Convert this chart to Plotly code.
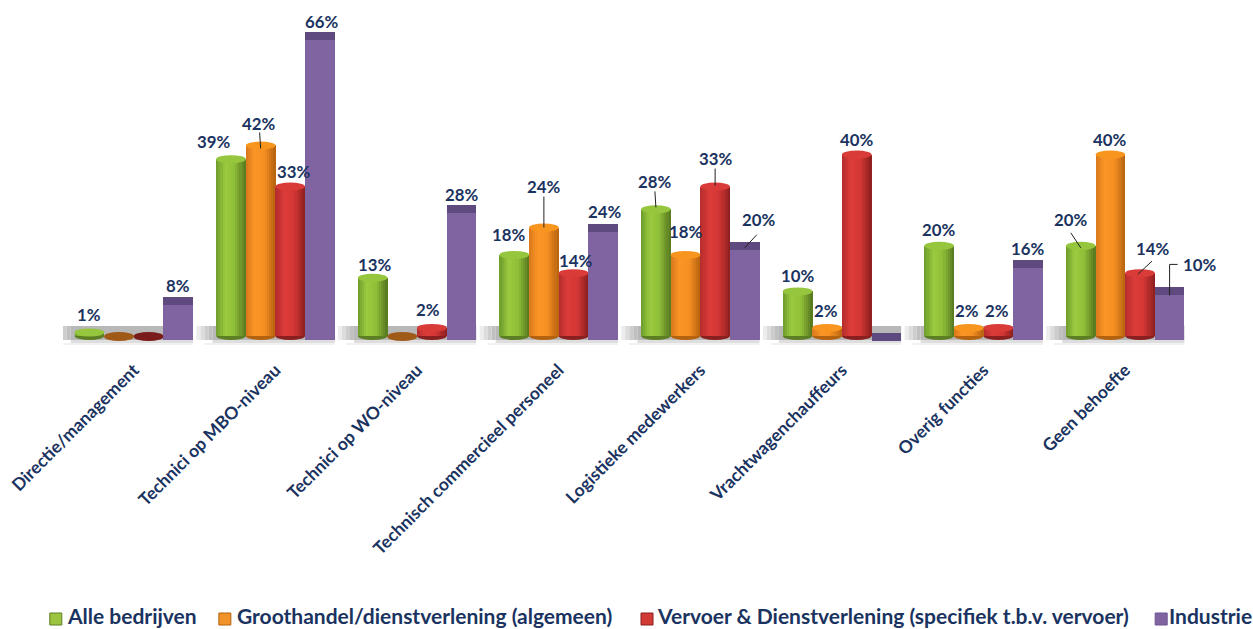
import plotly.graph_objects as go

CATEGORIES = ["Directie/management", "Technici op MBO-niveau", "Technici op WO-niveau",
              "Technisch commercieel personeel", "Logistieke medewerkers",
              "Vrachtwagenchauffeurs", "Overig functies", "Geen behoefte"]
ALLE = [1, 39, 13, 18, 28, 10, 20, 20]
GROOTHANDEL = [0, 42, 0, 24, 18, 2, 2, 40]
VERVOER = [0, 33, 2, 14, 33, 40, 2, 14]
INDUSTRIE = [8, 66, 28, 24, 20, 0, 16, 10]
NAMES = ["Alle bedrijven", "Groothandel/dienstverlening (algemeen)",
         "Vervoer & Dienstverlening (specifiek t.b.v. vervoer)", "Industrie"]
SERIES = [ALLE, GROOTHANDEL, VERVOER, INDUSTRIE]

# label shift from the bar top, in pixels (dx, up); None = no label
SHIFTS = [
    [(0, 14), (-18, 14), (2, 9), (-6, 16), (-1, 24), (0, 12), (-1, 12), (-10, 22)],
    [None, (-2, 17.5), None, (0, 36.6), (0, 19), (-1, 13), (-2, 13), (-1, 11.6)],
    [None, (3, 11.5), (-4, 14), (2, 9), (0, 24.5), (0, 11.6), (-1, 13), (13, 21)],
    [(0, 11), (2, 11), (0, 11), (1, 11.6), (14, 22), None, (0, 12), (29.5, 23.4)],
]
# leader lines: series, category, list of (dx, up) pixels from the bar top
LEADERS = [
    (1, 1, [(-1, 9), (0, -7)]),
    (1, 3, [(0, 27), (0, -4)]),
    (0, 4, [(-1, 14), (0, -2)]),
    (2, 4, [(0, 14), (0, -3)]),
    (3, 4, [(12, 7), (0, -6)]),
    (0, 7, [(-10, 9), (0, -6)]),
    (2, 7, [(12, 8), (-2, -5)]),
    (3, 7, [(8, 23), (0, 23), (0, -8)]),
]
RAMPS = [
    [(0, "#6d9a2c"), (.3, "#9bcb3f"), (.62, "#8fbe38"), (1, "#55761f")],
    [(0, "#d8781c"), (.3, "#fb9526"), (.62, "#f58f22"), (1, "#b5620f")],
    [(0, "#b32c2c"), (.3, "#dc3c3a"), (.62, "#d43735"), (1, "#8a1f1f")],
]
CAPS = ["#96c63e", "#f8951f", "#d93b39"]
BOTTOMS = ["#5c7f24", "#b5620f", "#8a1f1f"]
ZERO_CAPS = ["#7f5a20", "#a05a18", "#7a1c1c"]
PURPLE = "#8064a2"
PURPLE_CAP = "#5f4a80"
NAVY = "#1a3360"
LEGEND_FILL = ["#9bc53f", "#f0932b", "#d23a36", PURPLE]
LEGEND_EDGE = ["#5c7f24", "#b5620f", "#8a1f1f", "#6f5591"]
LEGEND_MARK_PX = [50, 219, 641, 1155]
LEGEND_TEXT_PX = [67, 237, 657, 1169]

PX_X = 1 / 141.6
PX_Y = 1 / 4.56
BAR_W = 29.6 * PX_X
OFFS = [-1.5 * BAR_W, -0.5 * BAR_W, 0.5 * BAR_W, 1.5 * BAR_W]
N_STRIPS = 14
PLOT_L, PLOT_T, PLOT_W, PLOT_H = 63.2, 10, 1132.6, 340


def hex2rgb(h):
    return tuple(int(h[i:i + 2], 16) for i in (1, 3, 5))


def ramp(stops, t):
    for (a, ca), (b, cb) in zip(stops, stops[1:]):
        if t <= b:
            f = (t - a) / (b - a)
            ra, rb = hex2rgb(ca), hex2rgb(cb)
            return "rgb(%d,%d,%d)" % tuple(round(p + (q - p) * f) for p, q in zip(ra, rb))
    return stops[-1][1]


def paper_x(px):
    return (px - PLOT_L) / PLOT_W


def paper_y(py):
    return 1 - (py - PLOT_T) / PLOT_H


xs = list(range(len(CATEGORIES)))
fig = go.Figure()
shapes = []

# floor
for i in xs:
    left = i - 79 * PX_X
    right = i + 59.2 * PX_X
    for k, col in enumerate(["#ececec", "#dcdcdc", "#cdcdcd", "#c0c0c0"]):
        shapes.append(dict(type="rect", xref="x", yref="y", layer="below", line_width=0, fillcolor=col,
                           x0=left + k * 4 * PX_X, x1=left + (k + 1) * 4 * PX_X, y0=-7 * PX_Y, y1=7 * PX_Y))
    shapes.append(dict(type="rect", xref="x", yref="y", layer="below", line_width=0, fillcolor="#b8b8b8",
                       x0=left + 16 * PX_X, x1=right, y0=-7 * PX_Y, y1=7 * PX_Y))
    shapes.append(dict(type="rect", xref="x", yref="y", layer="below", line_width=0, fillcolor="#dedede",
                       x0=left + 16 * PX_X, x1=right, y0=-10 * PX_Y, y1=-7 * PX_Y))
    shapes.append(dict(type="rect", xref="x", yref="y", layer="below", line_width=0, fillcolor="#f1f1f1",
                       x0=left + 8 * PX_X, x1=right, y0=-12 * PX_Y, y1=-10 * PX_Y))

# cylinders
for s in range(3):
    vals = SERIES[s]
    base = [-3 * PX_Y] * len(vals)
    heights = [None if v == 0 else v - 4 * PX_Y + 3 * PX_Y for v in vals]
    for k in range(N_STRIPS):
        t = (k + .5) / N_STRIPS
        w = BAR_W / N_STRIPS
        fig.add_trace(go.Bar(x=xs, y=heights, base=base, width=w * 1.12,
                             offset=OFFS[s] - BAR_W / 2 + k * w,
                             marker=dict(color=ramp(RAMPS[s], t), line_width=0),
                             name=NAMES[s], showlegend=False, hoverinfo="skip"))
    for i, v in enumerate(vals):
        cx = i + OFFS[s]
        shapes.append(dict(type="circle", xref="x", yref="y", layer="below", line_width=0,
                           fillcolor=BOTTOMS[s] if v else ZERO_CAPS[s],
                           x0=cx - BAR_W / 2, x1=cx + BAR_W / 2, y0=-7 * PX_Y, y1=1 * PX_Y))
        shapes.append(dict(type="circle", xref="x", yref="y", line_width=0,
                           fillcolor=CAPS[s] if v else ZERO_CAPS[s],
                           x0=cx - BAR_W / 2, x1=cx + BAR_W / 2, y0=v - 8 * PX_Y, y1=v))

# flat purple bars with a dark top band
fig.add_trace(go.Bar(x=xs, y=[v + 7 * PX_Y for v in INDUSTRIE], base=[-7 * PX_Y] * 8, width=BAR_W, offset=OFFS[3] - BAR_W / 2,
                     marker=dict(color=PURPLE, line_width=0), name=NAMES[3], showlegend=False, hoverinfo="skip"))
fig.add_trace(go.Bar(x=xs, y=[8 * PX_Y] * 8, base=[v - 8 * PX_Y for v in INDUSTRIE], width=BAR_W, offset=OFFS[3] - BAR_W / 2,
                     marker=dict(color=PURPLE_CAP, line_width=0), showlegend=False, hoverinfo="skip"))

# leader lines
for s, i, pts in LEADERS:
    cx = i + OFFS[s]
    v = SERIES[s][i]
    path = " ".join(("M" if n == 0 else "L") + f" {cx + dx * PX_X} {v + up * PX_Y}" for n, (dx, up) in enumerate(pts))
    shapes.append(dict(type="path", xref="x", yref="y", path=path, line=dict(color="#222222", width=1)))

annotations = []
for s in range(4):
    for i, v in enumerate(SERIES[s]):
        shift = SHIFTS[s][i]
        if shift is None:
            continue
        annotations.append(dict(x=i + OFFS[s], y=v, xref="x", yref="y", text=f"{v}%", showarrow=False,
                                xshift=shift[0], yshift=shift[1], xanchor="center", yanchor="middle",
                                font=dict(family="Lato", size=16.8, color=NAVY, weight="bold")))

# legend row
for s in range(4):
    shapes.append(dict(type="rect", xref="paper", yref="paper",
                       x0=paper_x(LEGEND_MARK_PX[s]), x1=paper_x(LEGEND_MARK_PX[s] + 12),
                       y0=paper_y(625), y1=paper_y(613), fillcolor=LEGEND_FILL[s],
                       line=dict(color=LEGEND_EDGE[s], width=1)))
    annotations.append(dict(x=paper_x(LEGEND_TEXT_PX[s]), y=paper_y(615), xref="paper", yref="paper",
                            text=NAMES[s], showarrow=False, xanchor="left", yanchor="middle", borderpad=0, borderwidth=0,
                            font=dict(family="Lato", size=21, color=NAVY, weight="bold")))

fig.update_layout(
    width=1253, height=629, autosize=False,
    margin=dict(l=PLOT_L, r=1253 - PLOT_L - PLOT_W, t=PLOT_T, b=629 - PLOT_T - PLOT_H, pad=0, autoexpand=False),
    paper_bgcolor="white", plot_bgcolor="white",
    barmode="overlay", bargap=0,
    shapes=shapes, annotations=annotations,
    showlegend=False,
    xaxis=dict(range=[-0.5, 7.5], tickmode="array", tickvals=xs, ticktext=CATEGORIES, tickangle=-45,
               showgrid=False, zeroline=False, showline=False, ticks="outside", ticklen=2, tickcolor="rgba(0,0,0,0)",
               automargin=False, ticklabeloverflow="allow",
               tickfont=dict(family="Lato", size=17.5, color=NAVY, weight="bold")),
    yaxis=dict(range=[-17 * PX_Y, 323 * PX_Y], visible=False, showgrid=False, zeroline=False),
)
fig.write_html("out.html", config={"displayModeBar": False}, post_script="document.body.style.margin='0';")
